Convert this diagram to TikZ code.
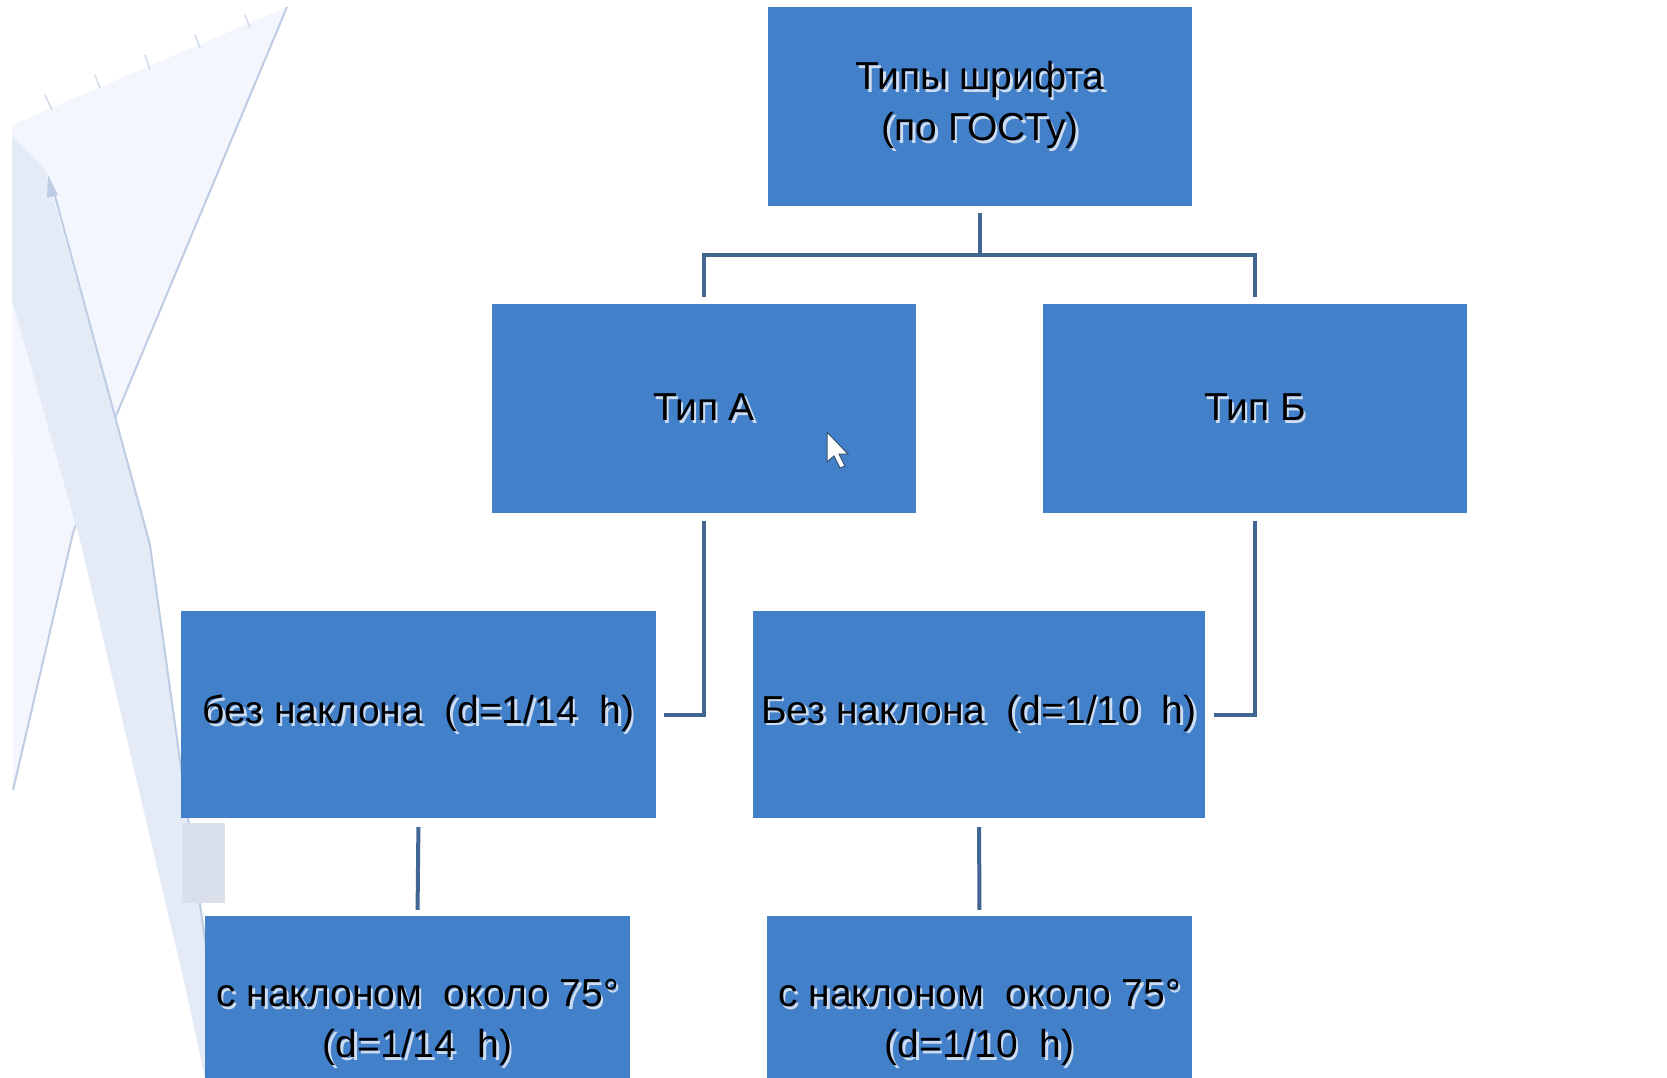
\documentclass[tikz,border=0pt]{standalone}
\usepackage{fontspec}
\setmainfont{Liberation Sans}
\definecolor{boxblue}{RGB}{66,128,201}
\definecolor{linec}{RGB}{65,102,145}
\definecolor{shadowc}{RGB}{205,220,240}
\definecolor{pencilc}{RGB}{228,235,247}
\definecolor{penciledge}{RGB}{190,204,228}
\definecolor{rulerfill}{RGB}{243,247,253}
\newcommand\shl[1]{\leavevmode\rlap{\hspace{2.5pt}\raisebox{-2.5pt}{\color{shadowc}#1}}#1}
\begin{document}
\begin{tikzpicture}[x=1pt,y=-1pt,
  bx/.style={rectangle, fill=boxblue, draw=none, inner sep=0pt, align=center,
    font=\fontsize{39}{51}\selectfont, text=black},
  conn/.style={draw=linec, line width=4pt},
  ruleredge/.style={draw=penciledge, line width=2pt}]
\useasboundingbox (0,0) rectangle (1667,1078);
\clip (0,0) rectangle (1667,1078);
\fill[white] (0,0) rectangle (1667,1078);
% background: set square and pencil
\fill[rulerfill] (12,125) -- (287,7) -- (113,423) -- (73,533) -- (13,790) -- cycle;
\draw[ruleredge] (287,7) -- (113,423) -- (73,533) -- (13,790);
\foreach \p/\q in {{(45,95)/(52,110)},{(95,75)/(100,88)},{(145,55)/(150,70)},{(195,35)/(200,48)},{(245,15)/(250,28)}}
  \draw[penciledge!70, line width=1.5pt] \p -- \q;
\fill[pencilc] (12,135) -- (45,170) -- (150,540) -- (212,985) -- (228,1078) -- (205,1078) -- (186,990) -- (80,540) -- (12,300) -- cycle;
\draw[penciledge, line width=2pt] (52,185) -- (150,545) -- (212,990);
\fill[penciledge] (48,175) -- (58,195) -- (47,198) -- cycle;
\fill[pencilc!90!gray] (182,823) rectangle (225,903);
% boxes
\node[bx, minimum width=424pt, minimum height=199pt] (top) at (980,106.5)
  {\shl{Типы шрифта}\\\shl{(по ГОСТу)}};
\node[bx, minimum width=424pt, minimum height=209pt] (tipa) at (704,408.5) {\shl{Тип А}};
\node[bx, minimum width=424pt, minimum height=209pt] (tipb) at (1255,408.5) {\shl{Тип Б}};
\node[bx, minimum width=475pt, minimum height=207pt] (bez1) at (418.5,714.5)
  {\shl{без наклона\ \ (d=1/14\ \ h)}};
\node[bx, minimum width=452pt, minimum height=207pt] (bez2) at (979,714.5)
  {\shl{Без наклона\ \ (d=1/10\ \ h)}};
\node[bx, minimum width=425pt, minimum height=216pt] (s1) at (417.5,1024)
  {\shl{с наклоном\ \ около 75°}\\\shl{(d=1/14\ \ h)}};
\node[bx, minimum width=425pt, minimum height=216pt] (s2) at (979.5,1024)
  {\shl{с наклоном\ \ около 75°}\\\shl{(d=1/10\ \ h)}};
% cursor
\filldraw[fill=white, draw=linec!80!black, line width=1pt]
  (827,432) -- (827,462) -- (834,456) -- (840,468) -- (845,466) -- (839,454) -- (848,454) -- cycle;
% connectors
\coordinate (j) at (980,255);
\draw[conn, shorten <=7pt, shorten >=7pt] (top.south) -- (j) -| (tipa.north);
\draw[conn, shorten >=7pt] (j) -| (tipb.north);
\draw[conn, shorten <=8pt, shorten >=8pt] (tipa.south) |- (bez1.east);
\draw[conn, shorten <=8pt, shorten >=9pt] (tipb.south) |- (bez2.east);
\draw[conn, shorten <=9pt, shorten >=6pt] (bez1.south) -- (s1.north);
\draw[conn, shorten <=9pt, shorten >=6pt] (bez2.south) -- (s2.north);
\end{tikzpicture}
\end{document}
